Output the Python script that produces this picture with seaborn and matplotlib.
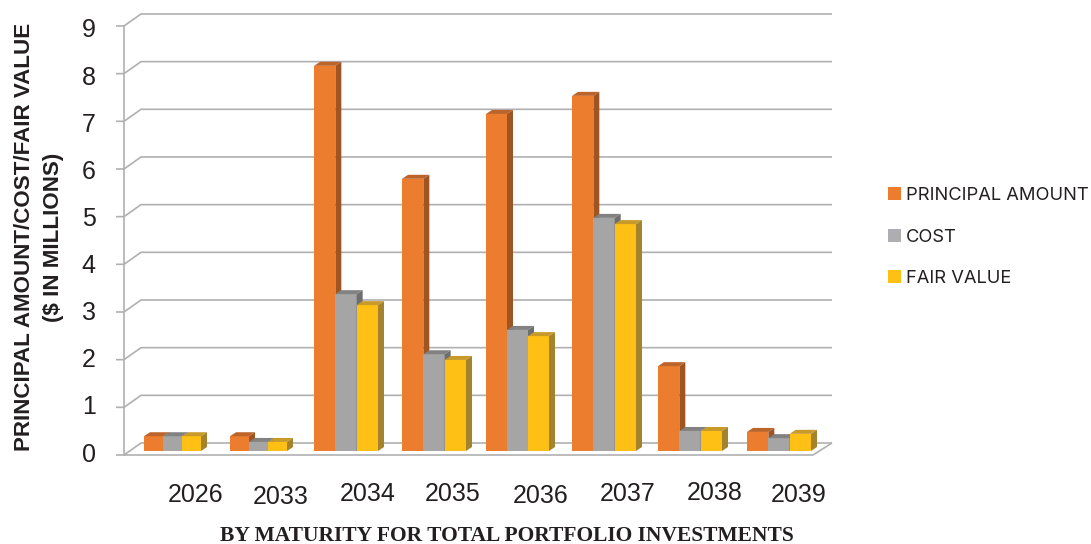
import matplotlib
matplotlib.use("Agg")
import matplotlib.pyplot as plt
import matplotlib.transforms as mtrans
from matplotlib.patches import Polygon, Patch
import pandas as pd
import seaborn as sns

years = ["2026", "2033", "2034", "2035", "2036", "2037", "2038", "2039"]
principal = [0.31, 0.31, 8.08, 5.71, 7.07, 7.45, 1.78, 0.40]
cost = [0.31, 0.19, 3.29, 2.03, 2.54, 4.89, 0.42, 0.27]
fair_value = [0.31, 0.19, 3.06, 1.91, 2.41, 4.76, 0.42, 0.36]
series_names = ["PRINCIPAL AMOUNT", "COST", "FAIR VALUE"]
y_ticks = list(range(10))

# style / layout
W, H = 1091, 544
front = ["#ED7D2E", "#A5A5A5", "#FFC015"]
top = ["#BD642B", "#828282", "#C79A2A"]
side = ["#9E5522", "#6E6E6E", "#A5822C"]
legend_colors = ["#ED7D2E", "#ADADB2", "#FFC015"]
grid_color = "#B0B0B0"
text_color = "#231F20"
PX_Y = 47.67
AX_L, AX_R, AX_B, AX_T = 130.5, 819.5, 451, 10
PX_X = (AX_R - AX_L) / len(years)
group_left_px = [144, 230, 314, 402, 486, 572, 658, 747]
group_width_px = [57, 57, 64, 64, 63, 64, 64, 64]
label_center_px = [196, 281, 368, 453, 541, 628, 715, 799]
label_nudge_y = [0, -2, 1, 1, -1, 1, 2, 0]

sns.set_style("white")
plt.rcParams["font.family"] = ["Liberation Sans", "DejaVu Sans"]
fig = plt.figure(figsize=(W / 100, H / 100), dpi=100)
ax = fig.add_axes([AX_L / W, 1 - AX_B / H, (AX_R - AX_L) / W, (AX_B - AX_T) / H])

df = pd.DataFrame({
    "year": years * 3,
    "series": sum([[n] * len(years) for n in series_names], []),
    "value": principal + cost + fair_value,
})
sns.barplot(data=df, x="year", y="value", hue="series", order=years,
            hue_order=series_names, palette=front, width=0.72, gap=0,
            saturation=1, legend=False, linewidth=0, ax=ax)
ax.set_xlim(-0.5, len(years) - 0.5)
ax.set_ylim(0, (AX_B - AX_T) / PX_Y)


def X(px):
    return -0.5 + (px - AX_L) / PX_X


def V(px):
    return (AX_B - px) / PX_Y


# bars: refit to group extents, then add depth faces
bdx, bdy = 6 / PX_X, 4 / PX_Y
for s, cont in enumerate(ax.containers):
    for g, bar in enumerate(cont):
        w = group_width_px[g] / 3
        bar.set_x(X(group_left_px[g] + s * w))
        bar.set_width(w / PX_X)
        bar.set_zorder(3 + s)
        x0, x1, h = bar.get_x(), bar.get_x() + bar.get_width(), bar.get_height()
        ax.add_patch(Polygon([(x0, h), (x1, h), (x1 + bdx, h + bdy), (x0 + bdx, h + bdy)],
                             fc=top[s], ec="none", zorder=3 + s, clip_on=False))
        ax.add_patch(Polygon([(x1, 0), (x1 + bdx, bdy), (x1 + bdx, h + bdy), (x1, h)],
                             fc=side[s], ec="none", zorder=3 + s, clip_on=False))

# frame: back wall grid, slanted connectors, front axis and floor
lw = 1.2
fx, bx, fxr, bxr, tick = X(124), X(141), X(813), X(832), X(116)
line = dict(color=grid_color, lw=lw, clip_on=False, zorder=1, solid_capstyle="butt")
for v in y_ticks:
    fy, by = V(455 - v * PX_Y), V(443 - v * PX_Y)
    ax.plot([tick, fx, bx, bxr], [fy, fy, by, by], **line)
ax.plot([fx, fx], [V(455), V(455 - 9 * PX_Y)], **line)
ax.plot([fx, fxr, bxr], [V(455), V(455), V(443)], **line)

# axes text
sns.despine(ax=ax, left=True, bottom=True)
ax.set_yticks(y_ticks)
ax.set_xticks(range(len(years)))
ax.set_xticklabels(years)
ax.tick_params(axis="both", length=0, labelsize=18, labelcolor=text_color)
ax.tick_params(axis="y", pad=25)
ax.tick_params(axis="x", pad=23)
for i, t in enumerate(ax.get_xticklabels()):
    dx = label_center_px[i] - (AX_L + PX_X * (i + 0.5))
    t.set_transform(t.get_transform() + mtrans.ScaledTranslation(
        dx / 100, label_nudge_y[i] / 100, fig.dpi_scale_trans))
for v, t in zip(y_ticks, ax.get_yticklabels()):
    t.set_transform(t.get_transform() + mtrans.ScaledTranslation(
        0, -(1 + 5 * v / 9) / 100, fig.dpi_scale_trans))

ax.set_ylabel("PRINCIPAL AMOUNT/COST/FAIR VALUE\n($ IN MILLIONS)", fontsize=16.15,
              fontweight="bold", color=text_color, linespacing=1.55)
ax.yaxis.set_label_coords(64.5 / W, 1 - 237 / H, transform=fig.transFigure)
ax.set_xlabel("BY MATURITY FOR TOTAL PORTFOLIO INVESTMENTS", fontsize=15.5,
              fontweight="bold", family="Liberation Serif", color=text_color)
ax.xaxis.set_label_coords(507 / W, 1 - 536 / H, transform=fig.transFigure)
ax.xaxis.label.set_verticalalignment("center")

handles = [Patch(fc=c, ec="none") for c in legend_colors]
ax.legend(handles, series_names, loc="center left", frameon=False,
          bbox_to_anchor=(888 / W, 1 - 237 / H), bbox_transform=fig.transFigure,
          prop={"family": "Inter", "size": 13.2}, labelcolor=text_color,
          handlelength=0.71, handleheight=0.71, handletextpad=0.28, labelspacing=1.34,
          borderpad=0, borderaxespad=0)

fig.savefig("out.png", dpi=100)
